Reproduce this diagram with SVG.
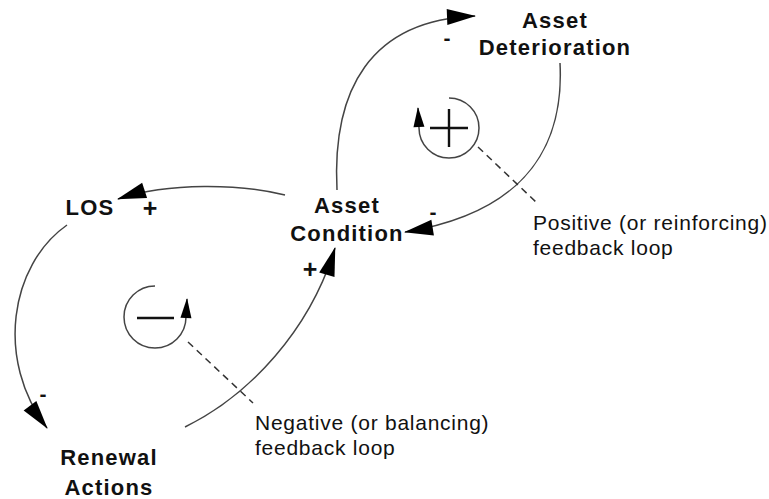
<svg xmlns="http://www.w3.org/2000/svg" width="769" height="499" viewBox="0 0 769 499">
  <defs>
    <style>
      .node { font-family: "Liberation Sans", Arial, sans-serif; font-weight: bold; font-size: 22px; letter-spacing: 1.2px; fill: #111; text-anchor: middle; }
      .sign { font-family: "Liberation Sans", Arial, sans-serif; font-weight: bold; font-size: 21px; fill: #111; text-anchor: middle; }
      .plus { font-size: 25px; }
      .note { font-family: "Liberation Sans", Arial, sans-serif; font-size: 21px; letter-spacing: 0.75px; fill: #111; }
      .link { fill: none; stroke: #444; stroke-width: 1.5; marker-end: url(#head); }
      .loop { fill: none; stroke: #444; stroke-width: 1.5; marker-end: url(#headSmall); }
      .leader { fill: none; stroke: #333; stroke-width: 1.5; stroke-dasharray: 7 5; }
      .mark { stroke: #111; stroke-width: 2.4; }
    </style>
    <marker id="head" viewBox="-30 -10 32 20" refX="0" refY="0" markerWidth="32" markerHeight="20" markerUnits="userSpaceOnUse" orient="auto">
      <path d="M1,0 L-28,-8 L-28,8 Z" fill="#000"/>
    </marker>
    <marker id="headSmall" viewBox="-22 -8 24 16" refX="0" refY="0" markerWidth="24" markerHeight="16" markerUnits="userSpaceOnUse" orient="auto">
      <path d="M1,0 L-19,-5.5 L-19,5.5 Z" fill="#000"/>
    </marker>
  </defs>

  <!-- causal links -->
  <g id="connectors">
    <path id="cond-to-det" class="link" d="M337,190 C332,90 370,20 475,16"/>
    <path id="det-to-cond" class="link" d="M560,63 C565,160 510,215 405,232"/>
    <path id="cond-to-los" class="link" d="M285,195 C240,184 170,182 118,199"/>
    <path id="los-to-renewal" class="link" d="M67,225 C10,265 -5,360 47,428"/>
    <path id="renewal-to-cond" class="link" d="M185,427 C250,395 310,330 335,248"/>
    <text class="sign" x="447" y="45">-</text>
    <text class="sign" x="433" y="219">-</text>
    <text class="sign" x="43" y="401">-</text>
    <text class="sign plus" x="150" y="217">+</text>
    <text class="sign plus" x="310" y="278">+</text>
  </g>

  <!-- variables -->
  <g id="asset-deterioration">
    <text class="node" x="555" y="28">Asset</text>
    <text class="node" x="555" y="55">Deterioration</text>
  </g>
  <g id="asset-condition">
    <text class="node" x="347" y="213">Asset</text>
    <text class="node" x="347" y="241">Condition</text>
  </g>
  <g id="los">
    <text class="node" x="90" y="215">LOS</text>
  </g>
  <g id="renewal-actions">
    <text class="node" x="109" y="465">Renewal</text>
    <text class="node" x="109" y="495">Actions</text>
  </g>

  <!-- reinforcing loop marker -->
  <g id="positive-loop">
    <path class="loop" d="M449,98 A30,30 0 1 1 419,128 L418,108"/>
    <line class="mark" x1="430" y1="128" x2="468" y2="128"/>
    <line class="mark" x1="449" y1="109" x2="449" y2="147"/>
    <line class="leader" x1="478" y1="147" x2="537" y2="203"/>
    <text class="note" x="533" y="230">Positive (or reinforcing)</text>
    <text class="note" x="533" y="255">feedback loop</text>
  </g>

  <!-- balancing loop marker -->
  <g id="negative-loop">
    <path class="loop" d="M155,286 A31,31 0 1 0 186,317 L187,299"/>
    <line class="mark" x1="137" y1="318" x2="174" y2="318"/>
    <line class="leader" x1="188" y1="342" x2="253" y2="403"/>
    <text class="note" x="255" y="430">Negative (or balancing)</text>
    <text class="note" x="255" y="455">feedback loop</text>
  </g>
</svg>
